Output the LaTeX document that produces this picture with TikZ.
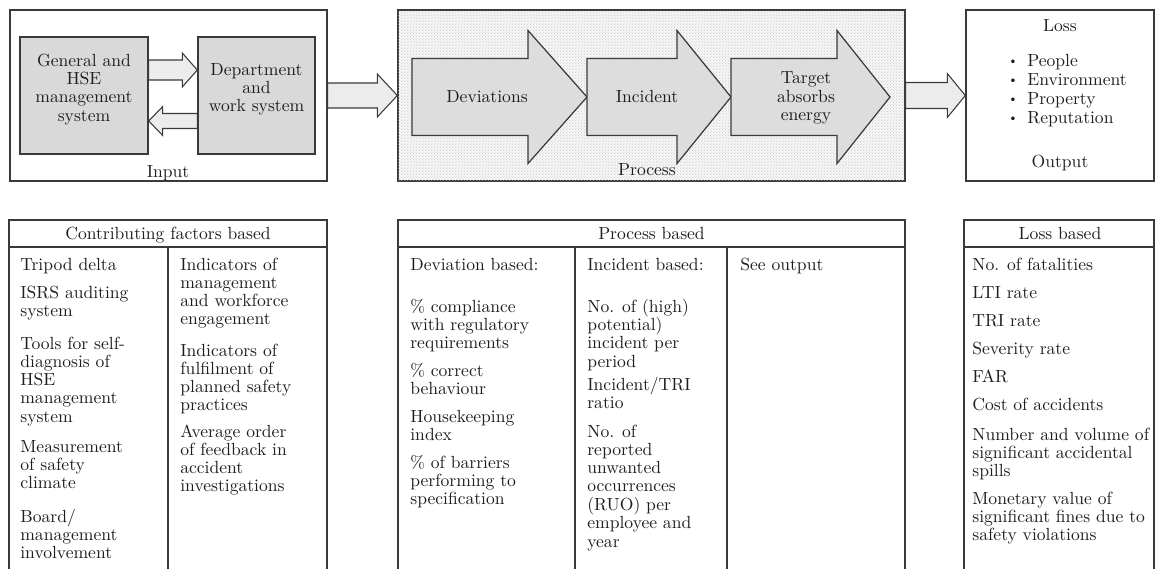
\documentclass[tikz,border=0pt]{standalone}
\usepackage{fontspec}
\usepackage{tikz}
\usetikzlibrary{positioning,calc,fit,patterns.meta}
\definecolor{hseline}{HTML}{3A3A3A}
\definecolor{hsetext}{HTML}{1E1E1E}
\definecolor{hsebox}{HTML}{D9D9D9}
\definecolor{hsearrow}{HTML}{ECECEC}
\definecolor{hseflow}{HTML}{DDDDDD}
\definecolor{hsedot}{HTML}{B8B8B8}
\definecolor{hsebg}{HTML}{F6F6F6}
\newcommand{\hsefont}{\fontsize{10}{10.4}\selectfont}
% lines stacked from the first baseline down
\newcommand{\stack}[1]{\begin{tabular}[t]{@{}l@{}}#1\end{tabular}}
\tikzdeclarepattern{
  name=hsedots, type=uncolored,
  bounding box={(0,0) and (1.8pt,1.8pt)},
  tile size={(1.8pt,1.8pt)},
  code={\pgfpathcircle{\pgfqpoint{0.45pt}{0.45pt}}{0.3pt}
        \pgfpathcircle{\pgfqpoint{1.35pt}{1.35pt}}{0.3pt}\pgfusepath{fill}}
}
% block arrow: [style]{tail}{tip}{shaft half}{head half}{head length}
\newcommand{\blockarrow}[6][]{%
  \draw[#1] ($(#2)+(0,#4)$) -- ($(#3)+({-1*(#6)},#4)$) -- ($(#3)+({-1*(#6)},#5)$)
    -- (#3) -- ($(#3)+({-1*(#6)},-#5)$) -- ($(#3)+({-1*(#6)},-#4)$)
    -- ($(#2)+(0,-#4)$) -- cycle;}
\tikzset{
  panel/.style     ={draw=hseline, line width=0.8pt, inner sep=0pt},
  greybox/.style   ={panel, fill=hsebox, align=center},
  dotpanel/.style  ={panel, fill=hsebg, postaction={pattern=hsedots, pattern color=hsedot}},
  hollowarrow/.style={draw=hseline, fill=hsearrow, line width=0.6pt, line join=miter},
  flowarrow/.style ={draw=hseline, fill=hseflow, line width=0.7pt, line join=miter},
  rule/.style      ={draw=hseline, line width=0.8pt},
  caption/.style   ={anchor=base, inner sep=0pt},
  item/.style      ={anchor=base west, inner sep=0pt},
}
\begin{document}
\begin{tikzpicture}[x=0.2mm, y=-0.2mm, font=\hsefont, text=hsetext]
  \useasboundingbox (0,0) rectangle (1156,569);

  % input
  \node[panel, fit={(10,10) (327,181)}] (inp) {};
  \node[greybox, fit={(20,37) (148,154)}] (gen) {General and\\HSE\\management\\system};
  \node[greybox, fit={(198,37) (315,154)}] (dep) {Department\\and\\work system};
  \node[caption] (inplbl) at (168,177) {Input};
  \coordinate (g1) at ($(gen.east)+(0,-25.5)$);
  \coordinate (d1) at (dep.west |- g1);
  \coordinate (g2) at ($(gen.east)+(0,25.5)$);
  \coordinate (d2) at (dep.west |- g2);
  \blockarrow[hollowarrow]{g1}{d1}{10}{17}{15}
  \blockarrow[hollowarrow]{d2}{g2}{7.5}{14.5}{-14}

  % process
  \node[dotpanel, fit={(398,10) (905,181)}] (proc) {};
  \coordinate (f0) at (412,97);
  \coordinate (f1) at (587,97);
  \coordinate (f2) at (731,97);
  \coordinate (f3) at (890,97);
  \blockarrow[flowarrow]{f0}{f1}{38.5}{66.5}{59}
  \blockarrow[flowarrow]{f1}{f2}{38.5}{66.5}{54}
  \blockarrow[flowarrow]{f2}{f3}{38.5}{66.5}{53}
  \node[caption] (dev) at (487,102) {Deviations};
  \node[caption] (inc) at (647,102) {Incident};
  \node[align=center, inner sep=0pt] (tgt) at (806,98) {Target\\absorbs\\energy};
  \node[caption] (proclbl) at (647,175) {Process};

  % output
  \node[panel, fit={(966,10) (1154,181)}] (out) {};
  \node[caption] (loss) at (1060,31) {Loss};
  \foreach [count=\i from 0] \t in {People,Environment,Property,Reputation} {
    \node[caption] (bul\i) at (1013,66+\i*19) {\raisebox{0.6pt}{\scriptsize\textbullet}};
    \node[item] (lossitem\i) at (1027,66+\i*19) {\t};
  }
  \node[caption] (outlbl) at (1060,167) {Output};

  \blockarrow[hollowarrow]{inp.east}{proc.west}{12.5}{21.5}{20}
  \blockarrow[hollowarrow]{proc.east}{out.west}{13}{22}{18}

  % contributing factors table
  \draw[rule] (9,569) |- (327,220) -- (327,569);
  \draw[rule] (9,247) -- (327,247);
  \draw[rule] (168,247) -- (168,569);
  \node[caption] (cfhead) at (168,239) {Contributing factors based};
  \foreach [count=\i] \y/\t in {270/{Tripod delta}, 298/{ISRS auditing\\system},
      349/{Tools for self-\\diagnosis of\\HSE\\management\\system},
      452/{Measurement\\of safety\\climate}, 522/{Board/\\management\\involvement}} {
    \node[item] (cfa\i) at (20,\y) {\stack{\t}};
  }
  \foreach [count=\i] \y/\t in {270/{Indicators of\\management\\and workforce\\engagement},
      356/{Indicators of\\fulfilment of\\planned safety\\practices},
      437/{Average order\\of feedback in\\accident\\investigations}} {
    \node[item] (cfb\i) at (180,\y) {\stack{\t}};
  }

  % process based table
  \draw[rule] (398,569) |- (905,220) -- (905,569);
  \draw[rule] (398,247) -- (905,247);
  \foreach \x in {575,727} { \draw[rule] (\x,247) -- (\x,569); }
  \node[caption] (pbhead) at (651.5,239) {Process based};
  \foreach [count=\i] \y/\t in {270/{Deviation based:},
      312/{\% compliance\\with regulatory\\requirements}, 376/{\% correct\\behaviour},
      422/{Housekeeping\\index}, 468/{\% of barriers\\performing to\\specification}} {
    \node[item] (pba\i) at (410,\y) {\stack{\t}};
  }
  \foreach [count=\i] \y/\t in {270/{Incident based:},
      312/{No. of (high)\\potential)\\incident per\\period}, 390/{Incident/TRI\\ratio},
      437/{No. of\\reported\\unwanted\\occurrences\\(RUO) per\\employee and\\year}} {
    \node[item] (pbb\i) at (587,\y) {\stack{\t}};
  }
  \node[item] (pbc1) at (740,270) {See output};

  % loss based table
  \draw[rule] (964,569) |- (1154,220) -- (1154,569);
  \draw[rule] (964,247) -- (1154,247);
  \node[caption] (lbhead) at (1060,239) {Loss based};
  \foreach [count=\i] \y/\t in {270/{No. of fatalities}, 298/{LTI rate}, 326/{TRI rate},
      354/{Severity rate}, 382/{FAR}, 410/{Cost of accidents},
      440/{Number and volume of\\significant accidental\\spills},
      504/{Monetary value of\\significant fines due to\\safety violations}} {
    \node[item] (lba\i) at (972,\y) {\stack{\t}};
  }
\end{tikzpicture}
\end{document}
